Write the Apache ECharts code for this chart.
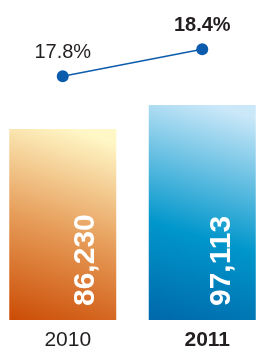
<!DOCTYPE html>
<html>
<head>
<meta charset="utf-8">
<script src="https://cdn.jsdelivr.net/npm/echarts@6/dist/echarts.min.js"></script>
<style>
html,body{margin:0;padding:0;background:#fff;}
#chart{width:267px;height:349px;}
</style>
</head>
<body>
<div id="chart"></div>
<script>
var categories = ['2010', '2011'];
var barValues = [86230, 97113];
var rateValues = [17.8, 18.4];
var boldCategory = [false, true];

var gradients = [
  new echarts.graphic.LinearGradient(0, 1, 0.6, 0, [
    {offset: 0, color: '#cb4c05'},
    {offset: 0.5, color: '#e69c58'},
    {offset: 1, color: '#fff7c6'}
  ]),
  new echarts.graphic.LinearGradient(0, 1, 0.6, 0, [
    {offset: 0, color: '#0068aa'},
    {offset: 0.42, color: '#0096cb'},
    {offset: 1, color: '#cbe8f9'}
  ])
];
var labelShift = [23, 19];
var font = '"Liberation Sans", Arial, Helvetica, sans-serif';

var chart = echarts.init(document.getElementById('chart'));
chart.setOption({
  animation: false,
  grid: {left: -7, width: 279, top: 10, bottom: 29, outerBoundsMode: 'none', containLabel: false},
  xAxis: {
    type: 'category',
    data: categories.map(function (c, i) {
      return {value: c, textStyle: {fontWeight: boldCategory[i] ? 'bold' : 'normal'}};
    }),
    axisLine: {show: false},
    axisTick: {show: false},
    axisLabel: {fontSize: 21, color: '#231f20', fontFamily: font, margin: 10, padding: [0, 0, 0, 10]}
  },
  yAxis: [
    {type: 'value', min: 0, max: 140000, show: false, splitLine: {show: false}},
    {type: 'value', min: 12.38, max: 19.27, show: false, splitLine: {show: false}}
  ],
  series: [
    {
      type: 'bar',
      barWidth: 107,
      data: barValues.map(function (v, i) {
        return {
          value: v,
          itemStyle: {color: gradients[i]},
          label: {offset: [0, labelShift[i]]}
        };
      }),
      label: {
        show: true,
        position: 'insideBottom',
        distance: 14,
        rotate: 90,
        align: 'left',
        verticalAlign: 'middle',
        color: '#ffffff',
        fontSize: 30,
        fontWeight: 'bold',
        fontFamily: font,
        formatter: function (p) { return p.value.toLocaleString('en-US'); }
      }
    },
    {
      type: 'line',
      yAxisIndex: 1,
      data: rateValues.map(function (v, i) {
        return {value: v, label: {fontWeight: boldCategory[i] ? 'bold' : 'normal'}};
      }),
      symbol: 'circle',
      symbolSize: 12,
      lineStyle: {color: '#0c5cae', width: 1.5},
      itemStyle: {color: '#0c5cae'},
      label: {
        show: true,
        position: 'top',
        distance: 8,
        fontSize: 20,
        color: '#231f20',
        fontFamily: font,
        formatter: function (p) { return p.value.toFixed(1) + '%'; }
      }
    }
  ]
});
</script>
</body>
</html>
